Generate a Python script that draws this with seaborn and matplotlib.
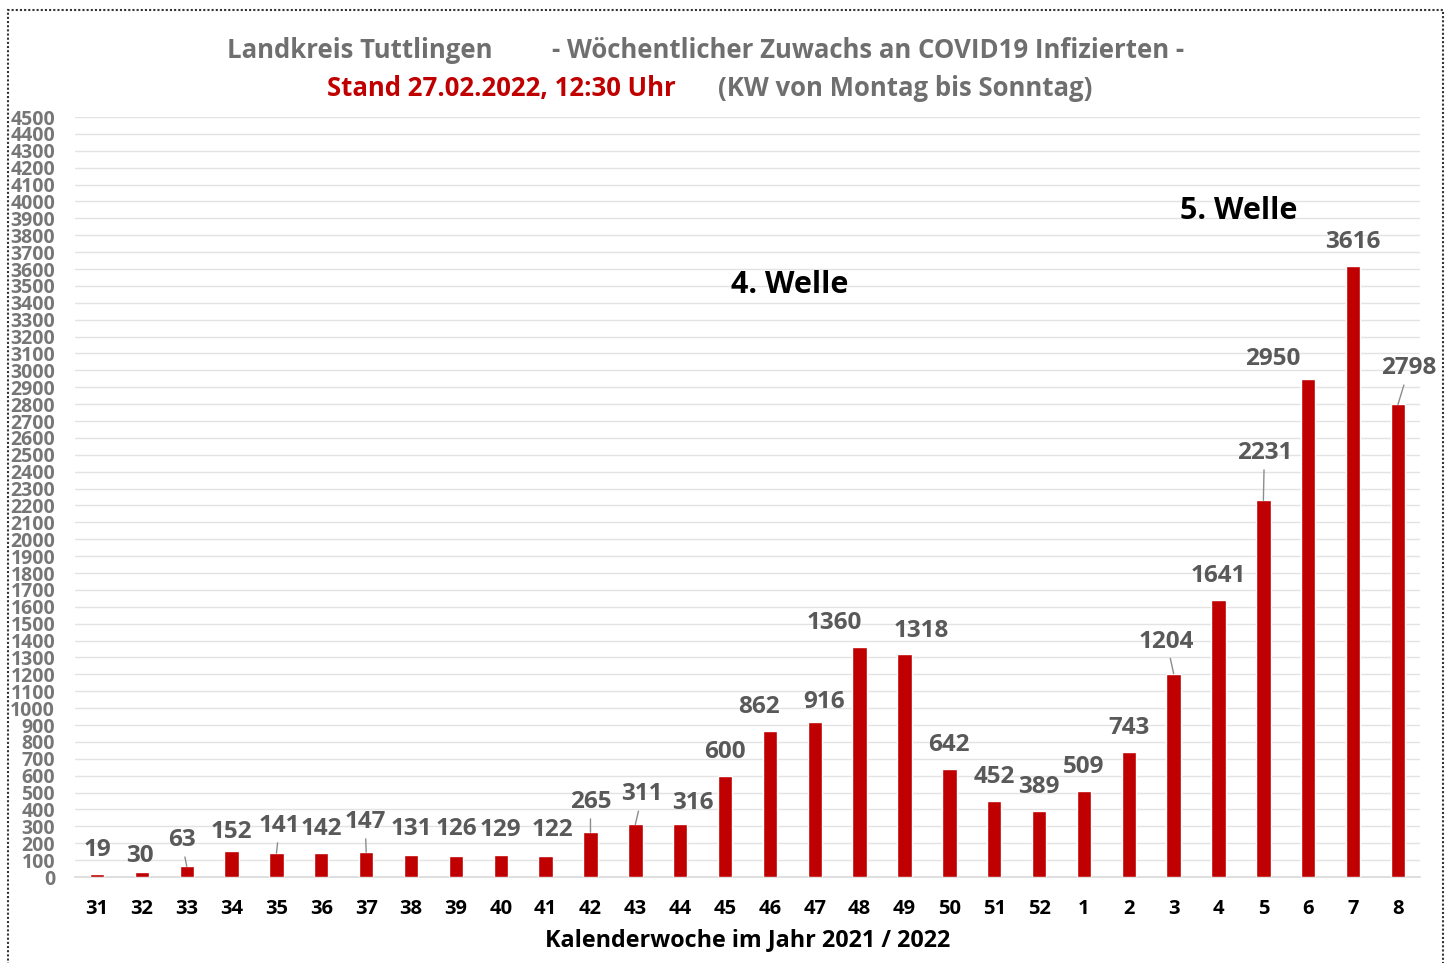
import matplotlib
matplotlib.use('Agg')
import matplotlib.pyplot as plt
import seaborn as sns
import pandas as pd
from matplotlib.patches import Rectangle

# Daten: Kalenderwochen 2021/2022 und woechentliche Neuinfektionen
kw = ['31', '32', '33', '34', '35', '36', '37', '38', '39', '40', '41',
      '42', '43', '44', '45', '46', '47', '48', '49', '50', '51', '52',
      '1', '2', '3', '4', '5', '6', '7', '8']
faelle = [19, 30, 63, 152, 141, 142, 147, 131, 126, 129, 122,
          265, 311, 316, 600, 862, 916, 1360, 1318, 642, 452, 389,
          509, 743, 1204, 1641, 2231, 2950, 3616, 2798]
y_ticks = list(range(0, 4600, 100))

# Position der Beschriftung relativ zur Balkenspitze (Pixel), Standard (0, 24)
label_offset = {'31': (0, 24), '32': (-2, 16), '33': (-5, 26), '34': (0, 19),
                '35': (3, 27), '37': (-1, 30), '38': (0, 26), '39': (1, 27),
                '40': (0, 25), '41': (7, 26), '42': (0, 30), '43': (7, 30),
                '44': (13, 21), '46': (-11, 24), '47': (9, 20), '48': (-25, 24),
                '49': (17, 23), '3': (-7, 32), '5': (1, 47), '6': (-35, 20),
                '8': (11, 36)}
leader = ['33', '35', '37', '42', '43', '3', '5', '8']

df = pd.DataFrame({'KW': kw, 'Faelle': faelle})

sns.set_style('white')
plt.rcParams['font.family'] = ['Open Sans', 'DejaVu Sans']

rot = '#C00000'
grau = '#6f6f6f'

fig = plt.figure(figsize=(14.51, 9.63), dpi=100)
ax = fig.add_axes([0.0514, 0.0893, 0.9275, 0.7892])

sns.barplot(data=df, x='KW', y='Faelle', order=kw, color=rot,
            saturation=1, width=0.32, ax=ax, zorder=3)

ax.set_xlim(-0.5, len(kw) - 0.5)
ax.set_ylim(0, 4500)
ax.set_yticks(y_ticks)
ax.set_yticklabels([str(t) for t in y_ticks])
ax.grid(axis='y', color='#e3e3e3', lw=1, zorder=0)
ax.grid(axis='x', visible=False)
for s in ['top', 'right', 'left']:
    ax.spines[s].set_visible(False)
ax.spines['bottom'].set_color('#d9d9d9')
ax.spines['bottom'].set_linewidth(1.2)
ax.tick_params(axis='y', length=0, pad=14, labelsize=14, labelcolor='#767676')
ax.tick_params(axis='x', length=0, pad=16, labelsize=14.5, labelcolor='black')
for t in ax.get_xticklabels() + ax.get_yticklabels():
    t.set_fontweight('bold')

ax.set_ylabel('')
ax.set_xlabel('Kalenderwoche im Jahr 2021 / 2022', fontsize=16.8,
              fontweight='bold', color='black', va='center')
ax.xaxis.set_label_coords(0.5, -0.083)

# Werte ueber den Balken
for i, (k, v) in enumerate(zip(kw, faelle)):
    dx, dy = label_offset.get(k, (0, 24))
    arrow = None
    if k in leader:
        arrow = dict(arrowstyle='-', color='#8c8c8c', lw=1, shrinkA=1, shrinkB=0)
    ax.annotate(str(v), xy=(i, v), xytext=(dx, dy), textcoords='offset pixels',
                ha='center', va='center', fontsize=17.5, fontweight='bold',
                color='#595959', arrowprops=arrow, zorder=4)

ax.text(15.45, 3505, '4. Welle', fontsize=22, fontweight='bold',
        color='black', ha='center', va='center')
ax.text(25.46, 3943, '5. Welle', fontsize=22, fontweight='bold',
        color='black', ha='center', va='center')

# Titel (zweifarbig)
fig.text(0.248, 0.948, 'Landkreis Tuttlingen', fontsize=18.5, fontweight='bold',
         color=grau, ha='center', va='center')
fig.text(0.598, 0.948, '- Wöchentlicher Zuwachs an COVID19 Infizierten -',
         fontsize=18.5, fontweight='bold', color=grau, ha='center', va='center')
fig.text(0.3456, 0.9076, 'Stand 27.02.2022, 12:30 Uhr', fontsize=18.5,
         fontweight='bold', color=rot, ha='center', va='center')
fig.text(0.6237, 0.9076, '(KW von Montag bis Sonntag)', fontsize=18.5,
         fontweight='bold', color=grau, ha='center', va='center')

# gepunkteter Rahmen
fig.patches.append(Rectangle((0.0055, -0.02), 0.989, 1.0096, transform=fig.transFigure,
                             fill=False, edgecolor='#333333', lw=1.5,
                             linestyle=(0, (1, 1))))

fig.savefig('out.png', dpi=100)
